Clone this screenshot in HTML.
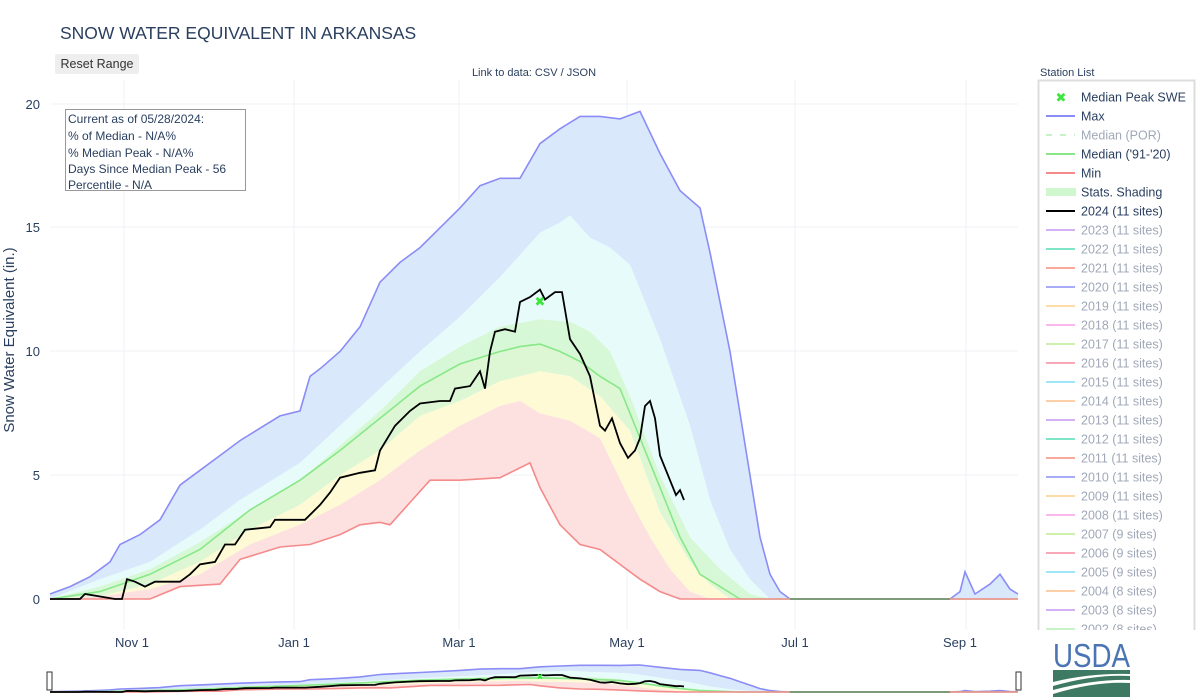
<!DOCTYPE html>
<html><head><meta charset="utf-8"><style>
body{margin:0;width:1200px;height:700px;background:#fff;font-family:"Liberation Sans","DejaVu Sans",sans-serif;overflow:hidden;position:relative}
.t{position:absolute;color:#2a3f5f}
</style></head><body>
<svg id="s" width="1200" height="700" style="position:absolute;left:0;top:0" xmlns="http://www.w3.org/2000/svg" font-family="Liberation Sans, DejaVu Sans, sans-serif">
<g id="grid" stroke="#eef0f5" stroke-width="1">
<line x1="50" x2="1018" y1="475" y2="475"/><line x1="50" x2="1018" y1="351" y2="351"/><line x1="50" x2="1018" y1="227" y2="227"/><line x1="50" x2="1018" y1="104" y2="104"/>
<line x1="124" x2="124" y1="80" y2="630"/><line x1="294" x2="294" y1="80" y2="630"/><line x1="459" x2="459" y1="80" y2="630"/><line x1="627" x2="627" y1="80" y2="630"/><line x1="795" x2="795" y1="80" y2="630"/><line x1="966" x2="966" y1="80" y2="630"/>
</g>
<g id="main"></g>
<g id="mini"></g>
<g fill="#2a3f5f" font-size="13">
<text x="40" y="604" text-anchor="end">0</text><text x="40" y="480" text-anchor="end">5</text><text x="40" y="356" text-anchor="end">10</text><text x="40" y="232" text-anchor="end">15</text><text x="40" y="109" text-anchor="end">20</text>
<g text-anchor="middle"><text x="132" y="647">Nov  1</text><text x="294" y="647">Jan  1</text><text x="459" y="647">Mar  1</text><text x="627" y="647">May  1</text><text x="795" y="647">Jul  1</text><text x="960" y="647">Sep  1</text></g>
<text transform="translate(14,340) rotate(-90)" text-anchor="middle" font-size="15">Snow Water Equivalent (in.)</text>
</g>
<rect x="65.5" y="109.5" width="180" height="81" fill="#fff" stroke="#999"/>
<g fill="#2a3f5f" font-size="12"><text x="68" y="123">Current as of 05/28/2024:</text><text x="68" y="140">% of Median - N/A%</text><text x="68" y="157">% Median Peak - N/A%</text><text x="68" y="173">Days Since Median Peak - 56</text><text x="68" y="189">Percentile - N/A</text></g>
<rect x="47" y="672" width="5" height="18" fill="#fff" stroke="#333"/><rect x="1016" y="672" width="5" height="18" fill="#fff" stroke="#333"/>
<rect x="1038.5" y="80.5" width="156" height="560" fill="#fff" stroke="#ddd" stroke-width="2"/>
<g id="leg" font-size="12.5"></g>
<rect x="1032" y="630" width="168" height="12" fill="#fff"/>
<text x="1040" y="76" font-size="11" fill="#2a3f5f">Station List</text>
<text x="534" y="76" font-size="11" fill="#2a3f5f" text-anchor="middle">Link to data: CSV / JSON</text>
<text x="1053" y="667" font-size="33" fill="#4a74b4" textLength="77" lengthAdjust="spacingAndGlyphs">USDA</text>
<path d="M1053 670 L1130 670 L1130 674 Q1090 673 1053 682Z" fill="#3e7a63"/>
<path d="M1053 686 Q1095 674 1130 676 L1130 680 Q1095 679 1053 690Z" fill="#3e7a63"/>
<path d="M1053 694 Q1095 681 1130 683 L1130 697 L1053 697Z" fill="#3e7a63"/>
</svg>
<div class="t" style="left:60px;top:23px;font-size:17.5px">SNOW WATER EQUIVALENT IN ARKANSAS</div>
<div class="t" style="left:55px;top:54px;width:84px;height:20px;background:#eee;border-radius:2px;font-size:12.5px;line-height:20px;text-align:center;color:#333">Reset Range</div>
<script>
const mx=[[50,.2],[70,.5],[90,.9],[110,1.5],[120,2.2],[140,2.6],[160,3.2],[180,4.6],[200,5.2],[220,5.8],[240,6.4],[260,6.9],[280,7.4],[300,7.6],[310,9.0],[320,9.3],[340,10.0],[360,11.0],[380,12.8],[400,13.6],[420,14.2],[440,15.0],[460,15.8],[480,16.7],[500,17.0],[520,17.0],[540,18.4],[560,19.0],[580,19.5],[600,19.5],[620,19.4],[640,19.7],[660,18.0],[680,16.5],[700,15.8],[710,14],[720,12],[730,10],[740,7.5],[750,5],[760,2.5],[770,1],[780,.3],[790,0],[950,0],[960,.3],[965,1.1],[975,.2],[990,.6],[1000,1.0],[1010,.4],[1018,.2]];
const p90=[[50,0],[100,.8],[150,1.5],[200,2.8],[240,4.0],[280,5.0],[300,5.5],[340,7.0],[380,8.5],[420,10.0],[460,11.4],[500,13.0],[540,14.8],[560,15.2],[570,15.5],[590,14.6],[610,14.2],[630,13.5],[660,10.5],[690,7],[710,4],[730,2],[750,.8],[770,0],[1018,0]];
const p75=[[50,0],[100,.5],[150,1.2],[200,2.3],[250,3.6],[300,4.8],[340,6.2],[380,7.6],[420,9.2],[460,10.2],[500,11.0],[540,11.3],[570,11.2],[590,10.8],[610,10.0],[630,8.2],[660,5.0],[690,2.5],[720,1.2],[750,.2],[770,0],[1018,0]];
const med=[[50,0],[100,.3],[150,1.0],[200,2.0],[250,3.6],[300,4.8],[340,6.0],[380,7.3],[420,8.6],[460,9.5],[500,10.0],[520,10.2],[540,10.3],[560,10.0],[580,9.6],[600,9.0],[620,8.5],[640,6.5],[660,4.5],[680,2.5],[700,1.0],[720,.5],[740,0],[1018,0]];
const p25=[[50,0],[100,.1],[150,.6],[200,1.5],[250,2.8],[300,3.8],[340,5.0],[380,6.0],[420,7.4],[460,8.0],[500,8.8],[540,9.2],[570,9.0],[600,8.2],[630,6.8],[660,3.5],[690,1.5],[710,.6],[730,0],[1018,0]];
const p10=[[50,0],[100,.1],[150,.4],[200,1.0],[250,2.2],[300,3.0],[340,3.8],[380,4.8],[420,6.0],[460,7.0],[500,7.8],[520,8.0],[540,7.5],[570,7.2],[600,6.5],[630,4.0],[650,2.5],[670,1.2],[690,.3],[710,0],[1018,0]];
const mn=[[50,0],[150,0],[180,.5],[220,.6],[240,1.6],[280,2.1],[310,2.2],[340,2.6],[360,3.0],[380,3.1],[390,3.0],[410,3.9],[430,4.8],[460,4.8],[500,4.9],[530,5.5],[540,4.5],[560,3.0],[580,2.2],[600,2.0],[620,1.4],[640,.8],[660,.3],[680,0],[1018,0]];
const cur=[[50,0],[80,0],[85,.2],[115,0],[122,0],[127,.8],[135,.7],[145,.5],[155,.7],[180,.7],[190,1.0],[200,1.4],[215,1.5],[225,2.2],[235,2.2],[245,2.8],[270,2.9],[275,3.2],[305,3.2],[320,3.8],[330,4.3],[340,4.9],[360,5.1],[375,5.2],[380,6.0],[395,7.0],[410,7.6],[420,7.9],[440,8.0],[450,8.0],[455,8.5],[470,8.6],[480,9.2],[485,8.5],[490,10.0],[495,10.8],[505,10.9],[515,10.8],[520,12.0],[530,12.2],[540,12.5],[545,12.1],[555,12.4],[562,12.4],[570,10.5],[580,9.9],[590,9.0],[600,7.0],[605,6.8],[612,7.3],[620,6.3],[628,5.7],[635,6.0],[640,6.5],[645,7.8],[650,8.0],[655,7.3],[660,5.8],[670,4.8],[676,4.2],[680,4.4],[684,4.0]];
function draw(g,y0,k){
 const Y=v=>(y0-v*k).toFixed(1);
 const L=a=>a.map(p=>p[0]+','+Y(p[1])).join(' ');
 const band=(hi,lo,c)=>'<polygon fill="'+c+'" points="'+L(hi)+' '+L(lo.slice().reverse())+'"/>';
 let s='';
 s+=band(mx,p90,'#dae8fb');s+=band(p90,p75,'#e6fbfa');s+=band(p75,med,'#d6f8d6');s+=band(med,p25,'#ddf7d5');s+=band(p25,p10,'#fdfad5');s+=band(p10,mn,'#fde0e0');
 s+='<polyline fill="none" stroke="#8b8cf6" stroke-width="1.6" points="'+L(mx)+'"/>';
 s+='<polyline fill="none" stroke="#88e888" stroke-width="1.6" points="'+L(med)+'"/>';
 s+='<polyline fill="none" stroke="#f58a8a" stroke-width="1.6" points="'+L(mn)+'"/>';
 s+='<line x1="790" x2="950" y1="'+Y(0)+'" y2="'+Y(0)+'" stroke="#7e9a7a" stroke-width="2"/>';
 s+='<polyline fill="none" stroke="#000" stroke-width="1.8" points="'+L(cur)+'"/>';
 s+='<text x="540" y="'+(+Y(12)+4)+'" text-anchor="middle" font-size="'+(k>5?13:8)+'" font-weight="bold" fill="#3ce63c">✖</text>';
 document.getElementById(g).innerHTML=s;
}
draw('main',599,24.75);draw('mini',692,1.37);
const items=[['x','#3ce63c','Median Peak SWE',1],['l','#8b8cf6','Max',1],['d','#c8f2c8','Median (POR)',0],['l','#88e888',"Median ('91-'20)",1],['l','#f58a8a','Min',1],['b','#cff8cf','Stats. Shading',1],['l','#000','2024 (11 sites)',1],
['l','#d6b0f5','2023 (11 sites)',0],['l','#7ee5c7','2022 (11 sites)',0],['l','#f8a99a','2021 (11 sites)',0],['l','#a8acf8','2020 (11 sites)',0],['l','#fddca8','2019 (11 sites)',0],['l','#fbb8ee','2018 (11 sites)',0],['l','#d0f0b0','2017 (11 sites)',0],['l','#f8a8b8','2016 (11 sites)',0],['l','#9ee6f8','2015 (11 sites)',0],['l','#fdcfa8','2014 (11 sites)',0],['l','#d6b0f5','2013 (11 sites)',0],['l','#7ee5c7','2012 (11 sites)',0],['l','#f8a99a','2011 (11 sites)',0],['l','#a8acf8','2010 (11 sites)',0],['l','#fddca8','2009 (11 sites)',0],['l','#fbb8ee','2008 (11 sites)',0],['l','#d0f0b0','2007 (9 sites)',0],['l','#f8a8b8','2006 (9 sites)',0],['l','#9ee6f8','2005 (9 sites)',0],['l','#fdcfa8','2004 (8 sites)',0],['l','#d6b0f5','2003 (8 sites)',0],['l','#c8f2c8','2002 (8 sites)',0]];
let h='';items.forEach((it,i)=>{const y=97+i*19;const c=it[3]?'#2a3f5f':'#a0a8b8';
if(it[0]=='x')h+='<text x="1061" y="'+(y+5)+'" text-anchor="middle" font-size="13" font-weight="bold" fill="'+it[1]+'">✖</text>';
else if(it[0]=='d')h+='<line x1="1046" x2="1075" y1="'+y+'" y2="'+y+'" stroke="'+it[1]+'" stroke-width="2" stroke-dasharray="6,8"/>';
else if(it[0]=='b')h+='<rect x="1046" y="'+(y-4)+'" width="30" height="8" fill="'+it[1]+'"/>';
else h+='<line x1="1046" x2="1075" y1="'+y+'" y2="'+y+'" stroke="'+it[1]+'" stroke-width="2"/>';
h+='<text x="1081" y="'+(y+4.5)+'" fill="'+c+'">'+it[2].replace(/'/g,'&#39;')+'</text>';});
document.getElementById('leg').innerHTML=h;
</script>
</body></html>
